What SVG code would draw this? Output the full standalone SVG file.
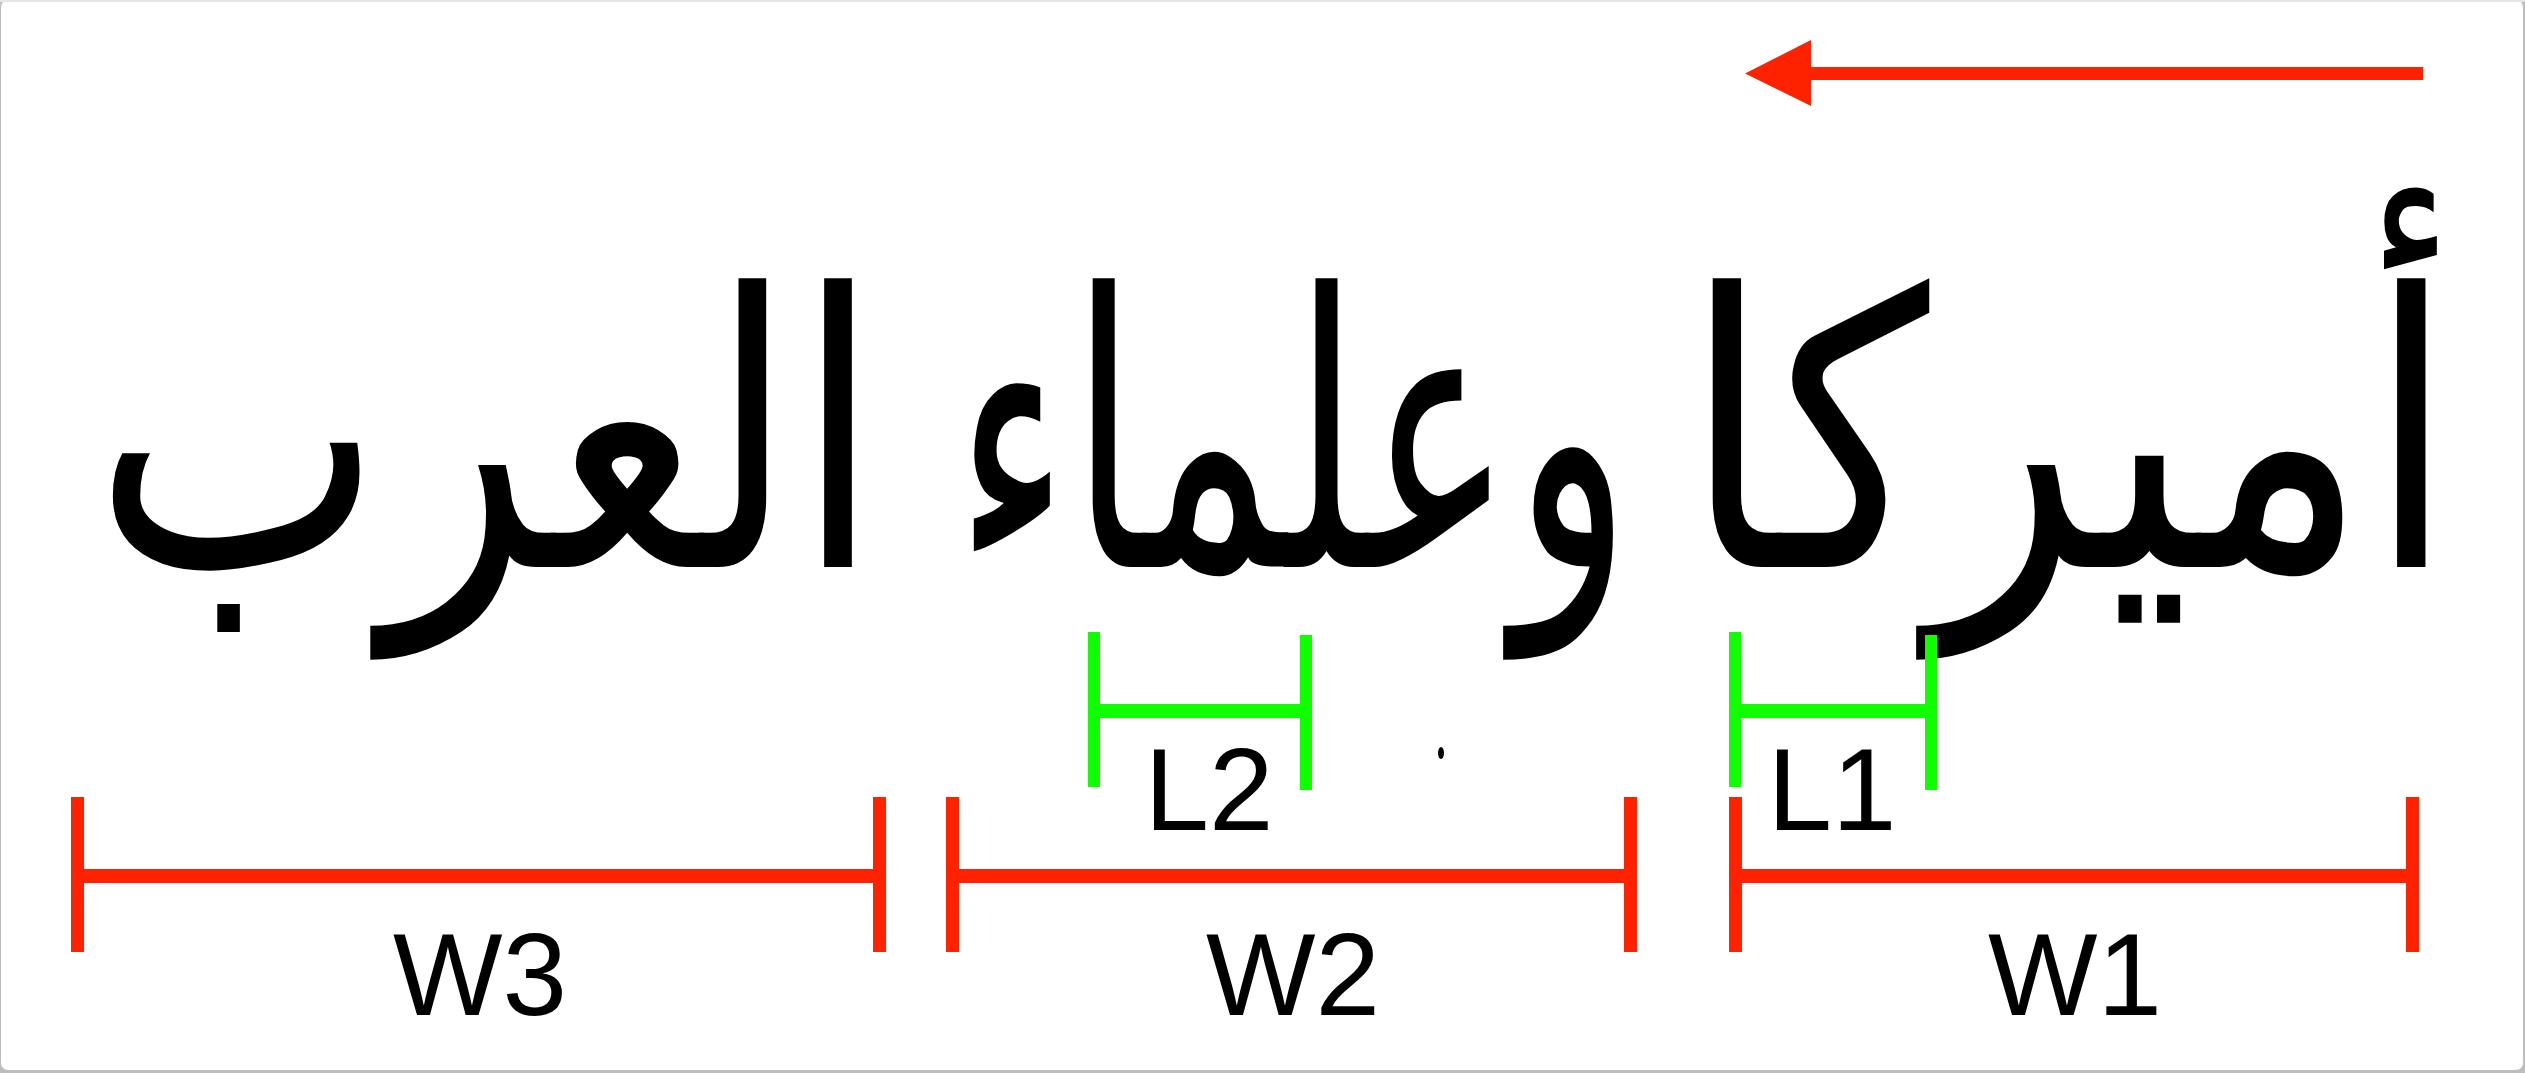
<svg xmlns="http://www.w3.org/2000/svg" width="2525" height="1073" viewBox="0 0 2525 1073">
  <style>
    .ar { font-family: "DejaVu Sans", sans-serif; font-size: 380px; fill: #000; text-anchor: middle; }
    .lbl { font-family: "Liberation Sans", Arial, sans-serif; font-size: 116px; fill: #000; text-anchor: middle; }
    .red { fill: #ff2200; }
    .green { fill: #10ff00; }
  </style>
  <rect x="0" y="-10" width="2525" height="1083" fill="#bdbdbd"/>
  <rect x="1" y="0" width="2522" height="1070" rx="7" ry="7" fill="#ffffff"/>
  <rect x="0" y="0" width="2525" height="2" fill="#e6e6e6"/>

  <g id="direction-arrow">
    <rect class="red" x="1805" y="67" width="618" height="13"/>
    <polygon class="red" points="1745,73.5 1811,40 1811,106"/>
  </g>

  <g id="word-1" transform="translate(2069,567) scale(0.83,1)">
    <text class="ar" x="0" y="0">أميركا</text>
  </g>
  <g id="word-2" transform="translate(1293,567) scale(0.645,1)">
    <text class="ar" x="0" y="0">وعلماء</text>
  </g>
  <g id="word-3" transform="translate(487,567) scale(0.81,1)">
    <text class="ar" x="0" y="0">العرب</text>
  </g>
  <ellipse cx="1441" cy="753" rx="3" ry="6" fill="#000"/>

  <g id="connectors">
    <g id="measure-L1">
      <rect class="green" x="1729" y="632" width="12" height="155"/>
      <rect class="green" x="1925" y="635" width="12" height="155"/>
      <rect class="green" x="1729" y="704" width="208" height="14"/>
    </g>
    <g id="measure-L2">
      <rect class="green" x="1088" y="632" width="12" height="155"/>
      <rect class="green" x="1300" y="635" width="12" height="155"/>
      <rect class="green" x="1088" y="704" width="224" height="14"/>
    </g>
    <g id="measure-W1">
      <rect class="red" x="1729" y="797" width="13" height="155"/>
      <rect class="red" x="2406" y="797" width="13" height="155"/>
      <rect class="red" x="1729" y="869" width="690" height="14"/>
    </g>
    <g id="measure-W2">
      <rect class="red" x="946" y="797" width="13" height="155"/>
      <rect class="red" x="1624" y="797" width="13" height="155"/>
      <rect class="red" x="946" y="869" width="691" height="14"/>
    </g>
    <g id="measure-W3">
      <rect class="red" x="71" y="797" width="13" height="155"/>
      <rect class="red" x="873" y="797" width="13" height="155"/>
      <rect class="red" x="71" y="869" width="815" height="14"/>
    </g>
  </g>

  <g id="label-L1"><text class="lbl" x="1832" y="830">L1</text></g>
  <g id="label-L2"><text class="lbl" x="1209" y="830">L2</text></g>
  <g id="label-W1"><text class="lbl" x="2075" y="1015">W1</text></g>
  <g id="label-W2"><text class="lbl" x="1293" y="1015">W2</text></g>
  <g id="label-W3"><text class="lbl" x="480" y="1015">W3</text></g>
</svg>
